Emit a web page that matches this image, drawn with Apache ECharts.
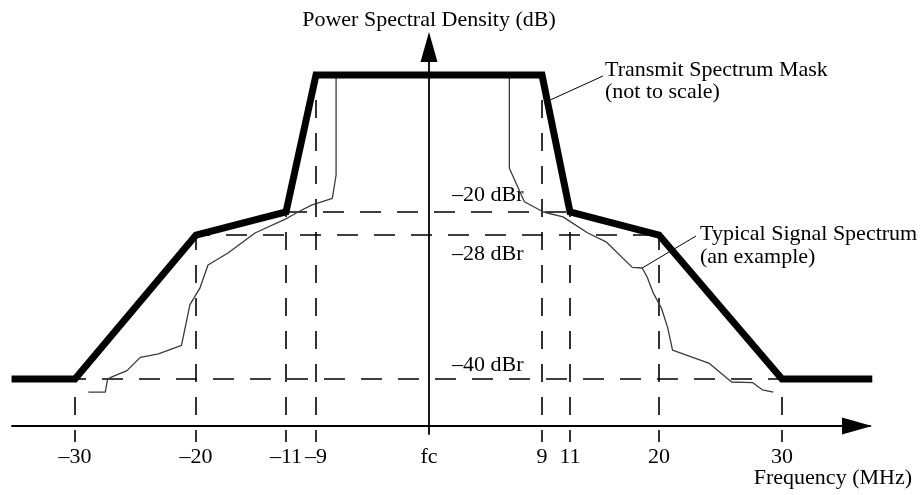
<!DOCTYPE html>
<html>
<head>
<meta charset="utf-8">
<title>Transmit Spectrum Mask</title>
<script src="https://cdn.jsdelivr.net/npm/echarts@6.0.0/dist/echarts.min.js"></script>
<style>
  html, body { margin: 0; padding: 0; background: #fff; }
  #chart { width: 921px; height: 495px; }
</style>
</head>
<body>
<div id="chart"></div>
<script>
// offsets from fc in MHz, levels in dBr
const maskFreq = [-35.2, -30, -20, -11, -9, 9, 11, 20, 30, 37.4];
const maskLevel = [-40, -40, -28, -20, 0, 0, -20, -28, -40, -40];

const signalFreq = [
  -28.9, -27.5, -27.3, -26.9, -25.7, -24.6, -23.1, -21.2, -20.5, -19.6,
  -18.8, -16.8, -14.1, -10.9, -10.2, -9.3, -7.7, -7.4, -7.4,
  6.4, 6.4, 7.6, 9.1, 10.5, 12.8, 14.7, 17.3, 18.3, 18.8,
  19.4, 20.2, 20.7, 21.1, 24.1, 25.9, 27.6, 28.4, 29.3
];
const signalLevel = [
  -41.1, -41.1, -40.0, -39.8, -39.3, -38.2, -37.9, -37.2, -33.8, -32.4,
  -30.5, -29.5, -27.3, -22.1, -20.0, -19.0, -18.0, -14.6, 0,
  0, -13.6, -18.5, -20.0, -21.7, -27.3, -28.6, -30.7, -30.75, -31.5,
  -32.8, -34.1, -35.7, -37.6, -38.7, -40.25, -40.3, -40.9, -41.1
];

const tickFreq = [-30, -20, -11, -9, 0, 9, 11, 20, 30];
const tickLabels = ['\u201330', '\u201320', '\u201311', '\u20139', 'fc', '9', '11', '20', '30'];
const levelTicks = [-20, -28, -40];
const levelLabels = ['\u201320 dBr', '\u201328 dBr', '\u201340 dBr'];
const guideHalfSpan = [11, 20, 30];

// the drawing is "not to scale": piecewise layout of the axes
const xKnotPos = [-354, -233, -143, -113, 0, 113, 141, 230, 353];
const yKnotLevel = [-40, -28, -20, 0];
const yKnotPos = [47, 191, 214, 351];
const tickDrop = -16;

function warp(value, knots, pos, outer) {
  const n = knots.length;
  if (value <= knots[0]) return pos[0] - (knots[0] - value) * outer[0];
  if (value >= knots[n - 1]) return pos[n - 1] + (value - knots[n - 1]) * outer[1];
  for (let i = 1; i < n; i++) {
    if (value <= knots[i]) {
      const t = (value - knots[i - 1]) / (knots[i] - knots[i - 1]);
      return pos[i - 1] + t * (pos[i] - pos[i - 1]);
    }
  }
}
const X = f => warp(f, tickFreq, xKnotPos, [12.2, 12.2]);
const Y = d => warp(d, yKnotLevel, yKnotPos, [12, 6.85]);

const font = '"Liberation Serif", "Times New Roman", serif';
const maskAt = f => maskLevel[maskFreq.indexOf(f)];

const guideStyle = { color: '#000', width: 1.6 };

const vGuides = tickFreq.filter(f => f !== 0).map(f => ({
  type: 'line',
  silent: true,
  clip: false,
  symbol: 'none',
  z: 1,
  data: [[X(f), tickDrop], [X(f), Y(maskAt(f))]],
  lineStyle: Object.assign({ type: [18, 15], dashOffset: 6 }, guideStyle)
}));

const hOffsets = [0, 7, 10];
const hGuides = levelTicks.map((lv, i) => ({
  type: 'line',
  silent: true,
  clip: false,
  symbol: 'none',
  z: 1,
  data: [[X(-guideHalfSpan[i]), Y(lv)], [X(guideHalfSpan[i]), Y(lv)]],
  lineStyle: Object.assign({ type: [21, 16], dashOffset: hOffsets[i] }, guideStyle)
}));

const leader = (from, px, py) => ({
  silent: true,
  symbol: ['none', 'none'],
  label: { show: false },
  lineStyle: { color: '#000', width: 1, type: 'solid' },
  data: [[{ coord: from }, { x: px, y: py }]]
});

const chart = echarts.init(document.getElementById('chart'));

const option = {
  backgroundColor: '#fff',
  animation: false,
  grid: { left: 12, right: 51, top: 47, bottom: 61, outerBoundsMode: 'none' },
  xAxis: {
    type: 'value',
    min: -417,
    max: 441,
    axisLine: {
      onZero: true,
      lineStyle: { color: '#000', width: 1.8 },
      symbol: ['none', 'triangle'],
      symbolSize: [17, 30],
      symbolOffset: [0, -13]
    },
    axisTick: { show: false },
    splitLine: { show: false },
    axisLabel: {
      customValues: tickFreq.map(X),
      formatter: v => tickLabels[tickFreq.map(X).indexOf(v)],
      color: '#000',
      fontFamily: font,
      fontSize: 22,
      margin: 12
    }
  },
  yAxis: {
    type: 'value',
    min: -8,
    max: 379,
    axisLine: {
      onZero: true,
      lineStyle: { color: '#000', width: 1.8 },
      symbol: ['none', 'triangle'],
      symbolSize: [17, 30]
    },
    axisTick: { show: false },
    splitLine: { show: false },
    axisLabel: {
      inside: true,
      margin: 440,
      customValues: levelTicks.map(Y),
      formatter: v => {
        const i = levelTicks.map(Y).indexOf(v);
        return '{l' + i + '|' + levelLabels[i] + '}';
      },
      color: '#000',
      fontFamily: font,
      fontSize: 22,
      rich: {
        l0: { fontFamily: font, fontSize: 22, color: '#000', padding: [0, 0, 34, 0] },
        l1: { fontFamily: font, fontSize: 22, color: '#000', padding: [39, 0, 0, 0] },
        l2: { fontFamily: font, fontSize: 22, color: '#000', padding: [0, 0, 28, 0] }
      }
    },
    name: 'Power Spectral Density (dB)',
    nameLocation: 'end',
    nameGap: 16,
    nameTextStyle: { color: '#000', fontFamily: font, fontSize: 22 }
  },
  graphic: [
    {
      type: 'text',
      left: 605,
      top: 59,
      style: { text: 'Transmit Spectrum Mask\n(not to scale)', font: '22px ' + font, lineHeight: 22, fill: '#000' }
    },
    {
      type: 'text',
      left: 700,
      top: 223,
      style: { text: 'Typical Signal Spectrum\n(an example)', font: '22px ' + font, lineHeight: 23, fill: '#000' }
    },
    {
      type: 'text',
      right: 9,
      top: 467,
      style: { text: 'Frequency (MHz)', font: '22px ' + font, fill: '#000' }
    }
  ],
  series: vGuides.concat(hGuides, [
    {
      name: 'Typical Signal Spectrum',
      type: 'line',
      clip: false,
      symbol: 'none',
      z: 2,
      data: signalFreq.map((f, i) => [X(f), Y(signalLevel[i])]),
      lineStyle: { color: '#3a3a3a', width: 1.3 },
      markLine: leader([X(18.3), Y(-30.75)], 696, 236)
    },
    {
      name: 'Transmit Spectrum Mask',
      type: 'line',
      clip: false,
      symbol: 'none',
      z: 3,
      data: maskFreq.map((f, i) => [X(f), Y(maskLevel[i])]),
      lineStyle: { color: '#000', width: 7, join: 'miter', cap: 'butt' },
      markLine: leader([X(9.64), Y(-3.6)], 603, 76)
    }
  ])
};

chart.setOption(option);
window.addEventListener('resize', () => chart.resize());
</script>
</body>
</html>
